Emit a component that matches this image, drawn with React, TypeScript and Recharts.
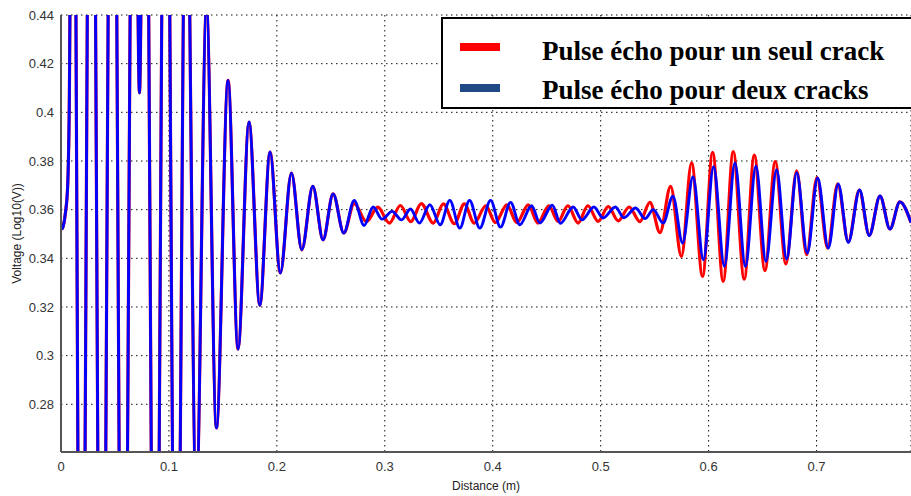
import { LineChart, Line, XAxis, YAxis, CartesianGrid, Label } from "recharts";

const xTicks = [0, 0.1, 0.2, 0.3, 0.4, 0.5, 0.6, 0.7];
const yTicks = [0.28, 0.3, 0.32, 0.34, 0.36, 0.38, 0.4, 0.42, 0.44];

// both echoes follow the same trace up to ~0.27 m
const headX = [0.0006, 0.0016, 0.0039, 0.0062, 0.0076, 0.0108, 0.0187, 0.0282, 0.0377, 0.0477, 0.0576, 0.0678, 0.0727, 0.0776, 0.0873, 0.097, 0.1068, 0.116, 0.1253, 0.1348, 0.144, 0.1548, 0.164, 0.1742, 0.1842, 0.1937, 0.2032, 0.2135, 0.2231, 0.2333, 0.2428, 0.2521, 0.262];
const headY = [0.352, 0.3526, 0.358, 0.37, 0.4, 0.62, 0.08, 0.64, 0.08, 0.64, 0.08, 0.6, 0.408, 0.6, 0.1, 0.6, 0.12, 0.52, 0.24, 0.443, 0.2703, 0.4131, 0.3027, 0.396, 0.3207, 0.3837, 0.334, 0.375, 0.3435, 0.3696, 0.3476, 0.3665, 0.3504];

// single crack (red)
const redX = [0.2716, 0.283, 0.2935, 0.3042, 0.3144, 0.3241, 0.3338, 0.3449, 0.3542, 0.3644, 0.3737, 0.3829, 0.3936, 0.4024, 0.4131, 0.4223, 0.433, 0.4418, 0.452, 0.4606, 0.4696, 0.4791, 0.4881, 0.4977, 0.507, 0.5162, 0.5264, 0.5363, 0.5456, 0.5549, 0.5648, 0.5748, 0.5842, 0.5944, 0.6037, 0.6135, 0.6228, 0.633, 0.6423, 0.6522, 0.6617, 0.6716, 0.6816, 0.6908, 0.7004, 0.7103, 0.7196, 0.7294, 0.7396, 0.7488, 0.7588, 0.768, 0.7772, 0.7875];
const redY = [0.3625, 0.3551, 0.361, 0.3545, 0.3617, 0.3551, 0.3625, 0.3545, 0.3624, 0.3542, 0.3624, 0.3545, 0.3616, 0.3547, 0.362, 0.3547, 0.362, 0.3545, 0.3616, 0.3552, 0.3616, 0.3545, 0.3616, 0.3552, 0.3613, 0.3554, 0.3611, 0.3551, 0.363, 0.3506, 0.3696, 0.3408, 0.3792, 0.3326, 0.3835, 0.3305, 0.3839, 0.3314, 0.3824, 0.335, 0.3798, 0.3377, 0.3759, 0.3415, 0.3732, 0.3442, 0.3706, 0.3468, 0.368, 0.3495, 0.3656, 0.3521, 0.3632, 0.3546];

// two cracks (blue)
const blueX = [0.2716, 0.2808, 0.2892, 0.2975, 0.3068, 0.3155, 0.3238, 0.332, 0.3417, 0.3513, 0.3602, 0.3695, 0.3785, 0.388, 0.398, 0.4072, 0.4165, 0.4251, 0.436, 0.4437, 0.4552, 0.4627, 0.4745, 0.4826, 0.4937, 0.5023, 0.5136, 0.5215, 0.5324, 0.541, 0.5487, 0.5579, 0.5669, 0.5759, 0.5855, 0.5952, 0.6046, 0.6146, 0.6244, 0.6341, 0.6438, 0.6531, 0.663, 0.6723, 0.6816, 0.6914, 0.701, 0.7109, 0.7201, 0.7294, 0.7399, 0.7488, 0.7588, 0.768, 0.7772, 0.7875];
const blueY = [0.3638, 0.3535, 0.3611, 0.3561, 0.3593, 0.3558, 0.3603, 0.3545, 0.362, 0.3538, 0.3638, 0.3524, 0.3638, 0.3524, 0.3638, 0.3528, 0.363, 0.3538, 0.3616, 0.3545, 0.3618, 0.3544, 0.3611, 0.3558, 0.3611, 0.3566, 0.3611, 0.3567, 0.3607, 0.3563, 0.36, 0.3545, 0.3655, 0.3463, 0.3735, 0.3394, 0.3777, 0.3367, 0.3792, 0.3366, 0.3779, 0.3388, 0.3764, 0.3397, 0.3752, 0.3422, 0.373, 0.3442, 0.3706, 0.3465, 0.3681, 0.3493, 0.3656, 0.352, 0.3632, 0.3547];

const legendItems = [
  { label: "Pulse écho pour un seul crack", color: "#ff0000" },
  { label: "Pulse écho pour deux cracks", color: "#1f4a85" },
];

const build = (xs: number[], ys: number[]) => xs.map((x, i) => ({ x, y: ys[i] }));
const redData = build([...headX, ...redX], [...headY, ...redY]);
const blueData = build([...headX, ...blueX], [...headY, ...blueY]);

const tickStyle = { fill: "#333", fontSize: 13, fontFamily: "'Liberation Sans', Arial, sans-serif" };
const fmt = (v: number) => String(Number(v.toFixed(2)));

export default function App() {
  return (
    <div style={{ position: "absolute", left: 0, top: 0, width: 911, height: 496, background: "#fff" }}>
      <LineChart width={911} height={496} margin={{ top: 15, right: 0, bottom: 0, left: 0 }}>
        <CartesianGrid stroke="#111" strokeDasharray="1.5 3.5" />
        <XAxis
          type="number" dataKey="x" domain={[0, 0.7875]} ticks={xTicks} allowDataOverflow
          tickFormatter={fmt} tick={tickStyle} tickLine={false} tickSize={8} height={44}
          axisLine={{ stroke: "#555", strokeWidth: 2 }}
        >
          <Label value="Distance (m)" position="insideBottom" offset={6} style={{ fill: "#222", fontSize: 12, fontFamily: "'Liberation Sans', Arial, sans-serif" }} />
        </XAxis>
        <XAxis xAxisId="top" orientation="top" type="number" dataKey="x" domain={[0, 0.7875]} height={0} tick={false} tickLine={false} axisLine={{ stroke: "#000", strokeWidth: 1.5 }} />
        <YAxis
          type="number" domain={[0.2604, 0.44]} ticks={yTicks} allowDataOverflow
          tickFormatter={fmt} tick={tickStyle} tickLine={false} tickSize={5} width={61}
          axisLine={{ stroke: "#555", strokeWidth: 2 }}
        >
          <Label value="Voltage (Log10(V))" angle={-90} position="insideLeft" offset={17} style={{ textAnchor: "middle", fill: "#222", fontSize: 12, fontFamily: "'Liberation Sans', Arial, sans-serif" }} />
        </YAxis>
        <Line data={redData} dataKey="y" type="monotone" stroke="#ff0000" strokeWidth={3.2} dot={false} isAnimationActive={false} />
        <Line data={blueData} dataKey="y" type="monotone" stroke="#0000ff" strokeWidth={2.9} dot={false} isAnimationActive={false} />
      </LineChart>
      <svg width={911} height={496} style={{ position: "absolute", left: 0, top: 0, pointerEvents: "none" }}>
        <rect x={442} y={18} width={480} height={90} fill="#fff" stroke="#000" strokeWidth={2} />
        {legendItems.map((item, i) => (
          <g key={item.label}>
            <rect x={460} y={i === 0 ? 43 : 84} width={40} height={8} fill={item.color} />
            <text x={542} y={i === 0 ? 60 : 99} fontFamily="'Liberation Serif', 'Times New Roman', serif" fontWeight="bold" fontSize={27} fill="#000">
              {item.label}
            </text>
          </g>
        ))}
      </svg>
    </div>
  );
}
